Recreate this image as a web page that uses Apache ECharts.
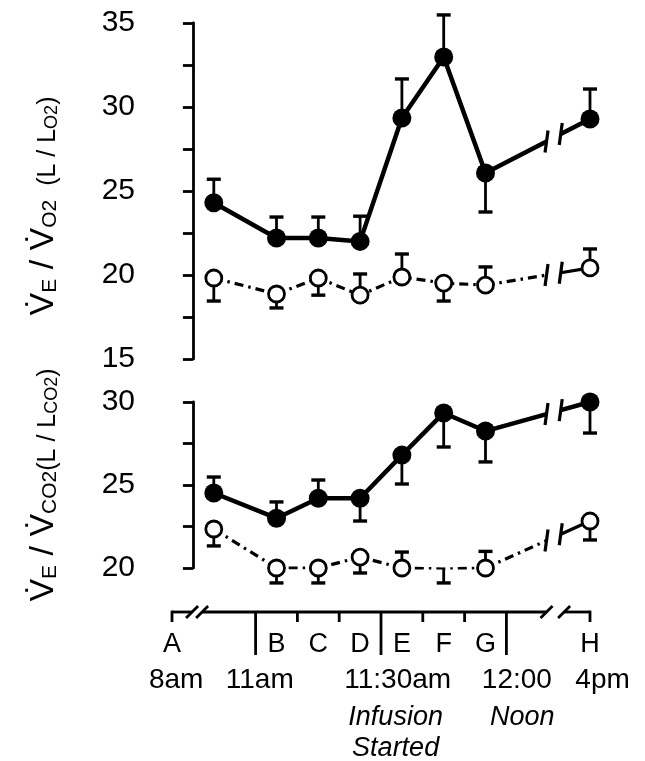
<!DOCTYPE html>
<html><head><meta charset="utf-8">
<script src="https://cdn.jsdelivr.net/npm/echarts@6/dist/echarts.min.js"></script>
<style>html,body{margin:0;padding:0;background:#fff}#c{width:645px;height:761px}</style>
</head><body><div id="c"></div>
<script>
const FONT = '"Liberation Sans", Arial, sans-serif';

// time slots (x values): first point, B..G, H
const xPos = [0.5, 2, 3, 4, 5, 6, 7, 9.5];

// Upper panel: VE/VO2
const o2Filled    = [24.3, 22.2, 22.2, 22.0, 29.35, 32.98, 26.07, 29.29];
const o2FilledErr = [25.7, 23.45, 23.45, 23.5, 31.67, 35.48, 23.75, 31.07];
const o2Open      = [19.82, 18.87, 19.82, 18.8, 19.88, 19.52, 19.4, 20.42];
const o2OpenErr   = [18.45, 18.04, 18.8, 20.06, 21.25, 18.45, 20.48, 21.55];

// Lower panel: VE/VCO2
const co2Filled    = [24.52, 23.0, 24.2, 24.2, 26.8, 29.34, 28.25, 30.0];
const co2FilledErr = [25.48, 23.98, 25.3, 22.83, 25.06, 27.29, 26.39, 28.13];
const co2Open      = [22.35, 20.0, 20.0, 20.66, 20.0, 19.94, 20.0, 22.83];
const co2OpenErr   = [21.33, 19.1, 19.1, 19.7, 20.96, 19.1, 21.0, 21.69];

// x axis description
const axisEnds   = [-0.5, 9.5];
const majorTicks = [1.5, 4.5, 7.5];
const minorTicks = [2.5, 3.5, 5.5, 6.5];
const axisBreaks = [[-0.02, 0.22], [8.46, 8.88]];
const dataBreak  = [8.46, 8.8];
const letters    = ['A', 'B', 'C', 'D', 'E', 'F', 'G', 'H'];
const letterPos  = [-0.5, 2, 3, 4, 5, 6, 7, 9.5];
const timeLabels = ['8am', '11am', '11:30am', '12:00', '4pm'];
const timePos    = [-0.4, 1.6, 4.9, 7.75, 9.8];
const noteLabels = ['Infusion', 'Started', 'Noon'];
const notePos    = [4.85, 4.85, 7.88];
const noteRow    = [0, 1, 0];

const chart = echarts.init(document.getElementById('c'), null, {renderer: 'canvas'});

function pts(vals) { return xPos.slice(0, 7).map((x, i) => [x, vals[i]]); }
function lastPt(vals) { return [[xPos[7], vals[7]]]; }
function errData(vals, ends) { return xPos.map((x, i) => [x, vals[i], ends[i]]); }

const filledSym = {symbol: 'circle', symbolSize: 19, itemStyle: {color: '#000', opacity: 1}};
const openSym = {symbol: 'circle', symbolSize: 16, itemStyle: {color: '#fff', borderColor: '#000', borderWidth: 2.8, opacity: 1}};
const DASH = [9, 5, 2.5, 5];

function errSeries(idx, vals, ends) {
  return {
    type: 'custom', xAxisIndex: idx, yAxisIndex: idx, z: 1, silent: true,
    data: errData(vals, ends),
    renderItem(params, api) {
      const p = api.coord([api.value(0), api.value(1)]);
      const e = api.coord([api.value(0), api.value(2)]);
      return {type: 'group', children: [
        {type: 'line', shape: {x1: p[0], y1: p[1], x2: e[0], y2: e[1]}, style: {stroke: '#000', lineWidth: 2.8}},
        {type: 'line', shape: {x1: e[0] - 7, y1: e[1], x2: e[0] + 7, y2: e[1]}, style: {stroke: '#000', lineWidth: 3.4}}
      ]};
    }
  };
}

function breakSeries(idx, vals, dashed) {
  return {
    type: 'custom', xAxisIndex: idx, yAxisIndex: idx, z: 1, silent: true,
    data: [[xPos[6], vals[6], xPos[7], vals[7]]],
    renderItem(params, api) {
      const g = api.coord([api.value(0), api.value(1)]);
      const h = api.coord([api.value(2), api.value(3)]);
      const x0 = api.value(0), x1 = api.value(2);
      const t1 = (dataBreak[0] - x0) / (x1 - x0), t2 = (dataBreak[1] - x0) / (x1 - x0);
      const b1 = [g[0] + (h[0] - g[0]) * t1, g[1] + (h[1] - g[1]) * t1];
      const b2 = [g[0] + (h[0] - g[0]) * t2, g[1] + (h[1] - g[1]) * t2];
      const lw = dashed ? 3.2 : 4.5;
      const cap = (b) => ({type: 'line', shape: {x1: b[0] - 1.5, y1: b[1] + 11, x2: b[0] + 1.5, y2: b[1] - 11}, style: {stroke: '#000', lineWidth: 3.2}});
      return {type: 'group', children: [
        {type: 'line', shape: {x1: g[0], y1: g[1], x2: b1[0], y2: b1[1]}, style: {stroke: '#000', lineWidth: lw, lineDash: dashed ? DASH : null}},
        {type: 'line', shape: {x1: b2[0], y1: b2[1], x2: h[0], y2: h[1]}, style: {stroke: '#000', lineWidth: lw}},
        cap(b1), cap(b2)
      ]};
    }
  };
}

function lineSeries(idx, vals, filled) {
  return Object.assign({
    type: 'line', xAxisIndex: idx, yAxisIndex: idx, z: 3, silent: true,
    data: pts(vals),
    lineStyle: filled ? {color: '#000', width: 4.5} : {color: '#000', width: 3.2, type: DASH},
    showSymbol: true
  }, filled ? filledSym : openSym);
}
function endSeries(idx, vals, filled) {
  return Object.assign({
    type: 'scatter', xAxisIndex: idx, yAxisIndex: idx, z: 3, silent: true,
    data: lastPt(vals)
  }, filled ? filledSym : openSym);
}

const xAxisSeries = {
  type: 'custom', xAxisIndex: 1, yAxisIndex: 1, z: 2, silent: true,
  data: [[axisEnds[0], 20]],
  renderItem(params, api) {
    const Y = api.coord([axisEnds[0], 20])[1] + 44;
    const X = (u) => api.coord([u, 20])[0];
    const st = {stroke: '#000', lineWidth: 2.8};
    const ch = [];
    const segs = [[axisEnds[0], axisBreaks[0][0]], [axisBreaks[0][1], axisBreaks[1][0]], [axisBreaks[1][1], axisEnds[1]]];
    segs.forEach(s => ch.push({type: 'line', shape: {x1: X(s[0]), y1: Y, x2: X(s[1]), y2: Y}, style: st}));
    axisBreaks.forEach(b => b.forEach(u => ch.push({type: 'line', shape: {x1: X(u) - 6, y1: Y + 6, x2: X(u) + 6, y2: Y - 6}, style: st})));
    axisEnds.forEach(u => ch.push({type: 'line', shape: {x1: X(u), y1: Y - 1.4, x2: X(u), y2: Y + 10}, style: st}));
    majorTicks.forEach(u => ch.push({type: 'line', shape: {x1: X(u), y1: Y, x2: X(u), y2: Y + 43}, style: st}));
    minorTicks.forEach(u => ch.push({type: 'line', shape: {x1: X(u), y1: Y, x2: X(u), y2: Y + 10}, style: st}));
    const txt = (t, u, dy, size, italic) => ({type: 'text', style: {text: t, x: X(u), y: Y + dy, fill: '#000', fontSize: size, fontFamily: FONT, fontStyle: italic ? 'italic' : 'normal', align: 'center', verticalAlign: 'middle'}});
    letters.forEach((t, i) => ch.push(txt(t, letterPos[i], 33, 27, false)));
    timeLabels.forEach((t, i) => ch.push(txt(t, timePos[i], 68, 28, false)));
    noteLabels.forEach((t, i) => ch.push(txt(t, notePos[i], 105 + noteRow[i] * 31, 27, true)));
    return {type: 'group', children: ch};
  }
};

const rich = {
  v:  {fontSize: 34, fontFamily: FONT, lineHeight: 52, verticalAlign: 'bottom', color: '#000'},
  s:  {fontSize: 21, fontFamily: FONT, lineHeight: 17, verticalAlign: 'bottom', color: '#000'},
  p:  {fontSize: 25, fontFamily: FONT, lineHeight: 47, verticalAlign: 'bottom', color: '#000'},
  ps: {fontSize: 18, fontFamily: FONT, lineHeight: 17, verticalAlign: 'bottom', color: '#000'}
};

function yAxis(idx, min, max, name, pad) {
  return {
    type: 'value', gridIndex: idx, min: min, max: max, interval: 2.5, offset: 20,
    axisLine: {show: true, lineStyle: {color: '#000', width: 2.8}},
    axisTick: {show: true, length: 10, lineStyle: {color: '#000', width: 2.8}},
    splitLine: {show: false},
    axisLabel: {color: '#000', fontSize: 30, fontFamily: FONT, margin: 17,
      formatter: v => (v % 5 === 0 ? String(v) : '')},
    name: name, nameLocation: 'middle', nameRotate: 90, nameGap: 91,
    nameTextStyle: {rich: rich, padding: pad}
  };
}

chart.setOption({
  animation: false,
  backgroundColor: '#fff',
  grid: [
    {left: 172, right: 55, top: 23, height: 336},
    {left: 172, right: 55, top: 402, height: 166}
  ],
  xAxis: [
    {type: 'value', gridIndex: 0, min: -0.5, max: 9.5, show: false},
    {type: 'value', gridIndex: 1, min: -0.5, max: 9.5, show: false}
  ],
  yAxis: [
    yAxis(0, 15, 35, '{v|V\u0307}{s|E}{v| / V\u0307}{s|O2}{p|  (L / L}{ps|O2}{p|)}', [0, 30, 0, 0]),
    yAxis(1, 20, 30, '{v|V\u0307}{s|E}{v| / V\u0307}{s|CO2}{p|(L / L}{ps|CO2}{p|)}', [0, 0, 0, 0])
  ],
  series: [
    errSeries(0, o2Filled, o2FilledErr),
    errSeries(0, o2Open, o2OpenErr),
    breakSeries(0, o2Filled, false),
    breakSeries(0, o2Open, true),
    lineSeries(0, o2Filled, true),
    lineSeries(0, o2Open, false),
    endSeries(0, o2Filled, true),
    endSeries(0, o2Open, false),
    errSeries(1, co2Filled, co2FilledErr),
    errSeries(1, co2Open, co2OpenErr),
    breakSeries(1, co2Filled, false),
    breakSeries(1, co2Open, true),
    lineSeries(1, co2Filled, true),
    lineSeries(1, co2Open, false),
    endSeries(1, co2Filled, true),
    endSeries(1, co2Open, false),
    xAxisSeries
  ]
});
</script></body></html>
